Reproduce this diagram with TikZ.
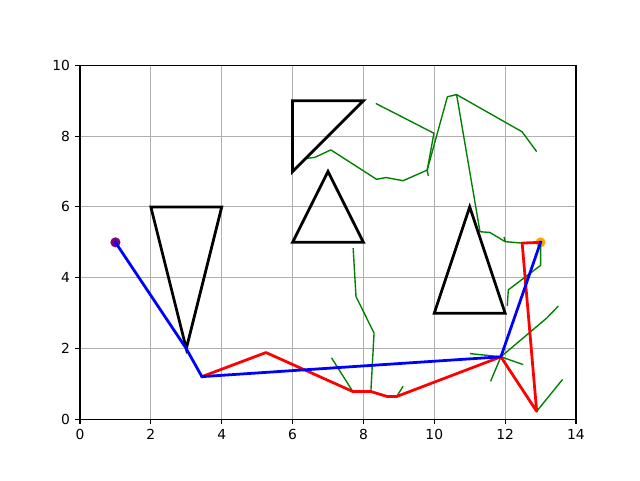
\documentclass[tikz,border=0pt]{standalone}
\usepackage{fontspec}
\setmainfont{DejaVu Sans}
\usepackage{xcolor}
\usetikzlibrary{positioning}

\definecolor{gridgrey}{HTML}{B0B0B0}
\definecolor{treegreen}{HTML}{008000}
\definecolor{startpurple}{HTML}{800080}
\definecolor{goalorange}{HTML}{FFA500}

\begin{document}
\begin{tikzpicture}[
font=\fontsize{9.84}{11}\selectfont,
gridline/.style={draw=gridgrey, line width=0.79pt},
obstacle/.style={draw=black, line width=1.97pt, line join=miter},
treeedge/.style={draw=treegreen, line width=0.98pt, line join=round},
rawpath/.style={draw=red, line width=1.97pt, line join=round, line cap=rect},
shortpath/.style={draw=blue, line width=1.97pt, line join=round, line cap=rect},
tickmark/.style={draw=black, line width=0.79pt},
ticklabel/.style={inner sep=0pt}
]
\useasboundingbox (0,0) rectangle (16,12);

\begin{scope}[shift={(2,1.5125)}, x=0.8857cm, y=0.8857cm]

% grid
\foreach \gx in {0,2,...,14}
  \draw[gridline] (\gx,0) -- (\gx,10);
\foreach \gy in {0,2,...,10}
  \draw[gridline] (0,\gy) -- (14,\gy);

% start and goal
\coordinate (start) at (1,5);
\coordinate (goal) at (13,5);
\fill[startpurple] (start) circle (3.6pt);
\fill[goalorange] (goal) circle (3.6pt);

% path vertices
\coordinate (b1) at (3,2);
\coordinate (b2) at (3.44,1.21);
\coordinate (b3) at (11.88,1.77);
\coordinate (r1) at (5.25,1.89);
\coordinate (r2) at (7.70,0.79);
\coordinate (r3) at (8.21,0.79);
\coordinate (r4) at (8.67,0.65);
\coordinate (r5) at (8.94,0.65);
\coordinate (r6) at (12.89,0.23);
\coordinate (r7) at (12.48,4.98);

% tree branch points
\coordinate (t1) at (9.80,7.04);
\coordinate (t2) at (9.99,8.08);
\coordinate (t3) at (10.63,9.17);
\coordinate (t4) at (12.00,5.02);

% tree
\draw[treeedge] (8.35,8.92) -- (t2) -- (t1) -- (9.83,6.88);
\draw[treeedge] (t1) -- (10.37,9.11) -- (t3) -- (12.48,8.12) -- (12.89,7.56);
\draw[treeedge] (t3) -- (11.29,5.30) -- (11.57,5.28) -- (t4) -- (r7);
\draw[treeedge] (t4) -- (11.97,5.15);
\draw[treeedge] (t1) -- (9.12,6.74) -- (8.64,6.83) -- (8.37,6.78) -- (7.08,7.61) -- (6.63,7.40) -- (6.40,7.37);
\draw[treeedge] (goal) -- (13.0,4.35) -- (12.09,3.66) -- (12.06,3.21);
\draw[treeedge] (7.71,4.84) -- (7.79,3.47) -- (8.30,2.44) -- (r3);
\draw[treeedge] (7.10,1.74) -- (r2);
\draw[treeedge] (r5) -- (9.12,0.94);
\draw[treeedge] (11.01,1.86) -- (b3) -- (12.51,1.55);
\draw[treeedge] (b3) -- (11.59,1.08);
\draw[treeedge] (b3) -- (13.17,2.86) -- (13.50,3.20);
\draw[treeedge] (r6) -- (13.62,1.13);

% obstacles
\draw[obstacle] (2,6) -- (4,6) -- (3,2) -- cycle;
\draw[obstacle] (6,9) -- (8,9) -- (6,7) -- cycle;
\draw[obstacle] (6,5) -- (8,5) -- (7,7) -- cycle;
\draw[obstacle] (10,3) -- (12,3) -- (11,6) -- cycle;

% paths
\draw[rawpath] (b2) -- (r1) -- (r2) -- (r3) -- (r4) -- (r5) -- (b3) -- (r6) -- (r7) -- (goal);
\draw[shortpath] (start) -- (b1) -- (b2) -- (b3) -- (goal);

% axes
\draw[tickmark] (0,0) rectangle (14,10);
\foreach \gx in {0,2,...,14} {
  \draw[tickmark] (\gx,0) -- ++(0,-3.44pt);
  \node[ticklabel, anchor=north] (xl\gx) at ([yshift=-6.9pt]\gx,0) {\gx};
}
\foreach \gy in {0,2,...,10} {
  \draw[tickmark] (0,\gy) -- ++(-3.44pt,0);
  \node[ticklabel, anchor=east] (yl\gy) at ([xshift=-6.9pt]0,\gy) {\gy};
}

\end{scope}
\end{tikzpicture}
\end{document}
